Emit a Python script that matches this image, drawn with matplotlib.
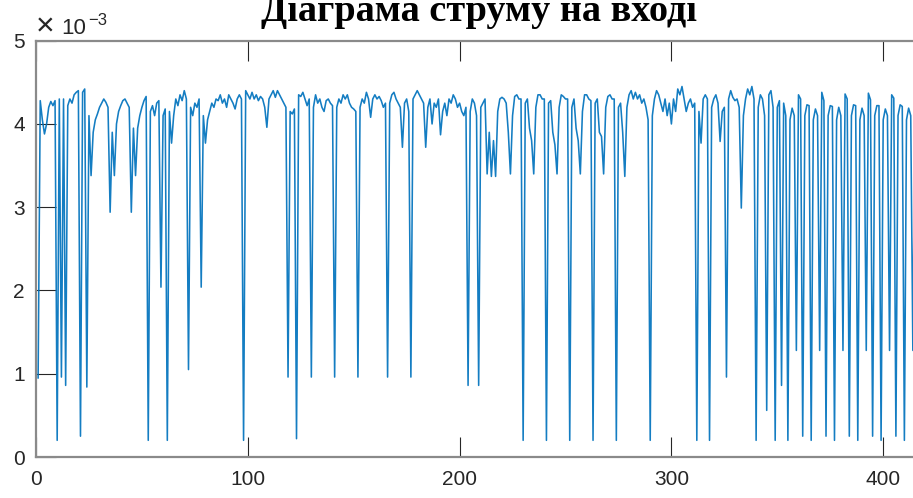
import numpy as np
import matplotlib
matplotlib.use("Agg")
import matplotlib.pyplot as plt
from matplotlib.ticker import FixedLocator, FuncFormatter

# Input current samples, units of 1e-3 (sample index starts at 1)
current_mA = [
    0.95, 4.28, 4.05, 3.88, 4.00, 4.20, 4.27, 4.22, 4.28, 0.20,
    4.30, 0.96, 4.30, 0.86, 4.22, 4.30, 4.25, 4.35, 4.38, 4.40,
    0.25, 4.38, 4.42, 0.84, 4.10, 3.38, 3.90, 4.05, 4.12, 4.20,
    4.25, 4.30, 4.26, 4.20, 2.94, 3.90, 3.38, 4.00, 4.15, 4.22,
    4.28, 4.30, 4.25, 4.20, 2.94, 3.95, 3.38, 3.95, 4.10, 4.20,
    4.28, 4.33, 0.20, 4.15, 4.22, 4.10, 4.25, 4.28, 2.04, 4.10,
    4.18, 0.20, 4.15, 3.77, 4.10, 4.30, 4.22, 4.35, 4.28, 4.40,
    4.30, 1.05, 4.20, 4.10, 4.25, 4.20, 4.30, 2.04, 4.10, 3.77,
    4.05, 4.15, 4.25, 4.20, 4.30, 4.28, 4.35, 4.25, 4.30, 4.20,
    4.35, 4.30, 4.25, 4.18, 4.30, 4.35, 4.30, 0.20, 4.40, 4.35,
    4.30, 4.38, 4.30, 4.35, 4.28, 4.33, 4.30, 4.20, 3.96, 4.30,
    4.35, 4.40, 4.32, 4.40, 4.35, 4.30, 4.25, 4.20, 0.96, 4.15,
    4.12, 4.18, 0.22, 4.35, 4.33, 4.38, 4.30, 4.22, 4.30, 0.96,
    4.20, 4.35, 4.25, 4.30, 4.20, 4.15, 4.28, 4.30, 4.25, 4.22,
    0.96, 4.20, 4.30, 4.25, 4.35, 4.30, 4.35, 4.25, 4.20, 4.18,
    4.15, 0.96, 4.20, 4.30, 4.25, 4.38, 4.30, 4.08, 4.30, 4.35,
    4.30, 4.33, 4.28, 4.20, 4.25, 0.96, 4.25, 4.35, 4.38, 4.30,
    4.25, 4.20, 3.72, 4.25, 4.30, 4.15, 0.96, 4.30, 4.35, 4.40,
    4.35, 4.30, 4.25, 3.72, 4.20, 4.30, 4.00, 4.25, 4.20, 4.30,
    3.87, 4.15, 4.25, 4.10, 4.30, 4.25, 4.35, 4.30, 4.20, 4.25,
    4.15, 4.10, 4.20, 0.86, 4.15, 4.30, 4.25, 4.10, 0.86, 4.20,
    4.25, 4.30, 3.40, 3.90, 3.37, 3.80, 3.37, 4.15, 4.30, 4.32,
    4.30, 4.25, 3.90, 3.40, 4.10, 4.33, 4.35, 4.30, 4.30, 0.20,
    4.25, 4.30, 3.95, 3.80, 3.40, 4.20, 4.35, 4.35, 4.30, 4.30,
    0.20, 4.25, 4.28, 3.90, 3.75, 3.40, 4.20, 4.35, 4.33, 4.30,
    4.30, 0.20, 4.20, 4.30, 3.95, 3.80, 3.40, 4.15, 4.35, 4.35,
    4.30, 4.28, 0.20, 4.25, 4.30, 3.90, 3.85, 3.40, 4.20, 4.33,
    4.35, 4.30, 4.30, 0.20, 4.20, 4.25, 3.90, 3.37, 4.20, 4.35,
    4.40, 4.30, 4.38, 4.30, 4.35, 4.25, 4.30, 4.20, 4.05, 0.20,
    4.10, 4.30, 4.40, 4.35, 4.25, 4.15, 4.30, 4.10, 4.25, 4.00,
    4.30, 4.15, 4.42, 4.35, 4.45, 4.30, 4.15, 4.25, 4.30, 4.20,
    4.25, 0.20, 4.15, 3.77, 4.30, 4.35, 4.30, 0.20, 4.20, 4.30,
    4.35, 4.25, 3.79, 4.15, 4.20, 0.96, 4.30, 4.40, 4.32, 4.28,
    4.30, 4.20, 2.99, 4.10, 4.30, 4.42, 4.35, 4.45, 4.30, 0.20,
    4.20, 4.35, 4.30, 4.10, 0.56, 4.35, 4.40, 4.20, 0.20, 4.20,
    4.28, 0.86, 4.25, 4.10, 0.20, 4.05, 4.19, 4.10, 1.28, 4.35,
    4.30, 0.25, 4.10, 4.23, 4.22, 0.20, 4.05, 4.18, 4.10, 1.28,
    4.38, 4.28, 0.25, 4.10, 4.22, 4.21, 0.20, 4.05, 4.20, 4.10,
    1.28, 4.36, 4.30, 0.25, 4.10, 4.23, 4.22, 0.20, 4.05, 4.19,
    4.10, 1.28, 4.37, 4.29, 0.25, 4.10, 4.22, 4.22, 0.20, 4.05,
    4.18, 4.10, 1.28, 4.35, 4.31, 0.25, 4.10, 4.23, 4.21, 0.20,
    4.05, 4.19, 4.10, 1.28, 4.36, 4.30, 0.25, 4.10, 4.23, 4.22,
]

y_ticks = [0, 1, 2, 3, 4, 5]
x_ticks = [0, 100, 200, 300, 400]
title_text = "Діаграма струму на вході"

current = np.array(current_mA) * 1e-3
sample = np.arange(1, len(current) + 1)

W, H = 913, 498
fig = plt.figure(figsize=(W / 100, H / 100), dpi=100)
fig.patch.set_facecolor("white")

x_lo, x_hi = 0, 420
ax_left, ax_bottom, ax_top = 36, 457, 40.7
px_per_unit = 2.118
ax = fig.add_axes([ax_left / W, (H - ax_bottom) / H,
                   (x_hi - x_lo) * px_per_unit / W, (ax_bottom - ax_top) / H])

ax.plot(sample, current, color="#0072BD", lw=1.15, alpha=0.92)

ax.set_xlim(x_lo, x_hi)
ax.set_ylim(0, 5e-3)
ax.xaxis.set_major_locator(FixedLocator(x_ticks))
ax.yaxis.set_major_locator(FixedLocator([v * 1e-3 for v in y_ticks]))
ax.yaxis.set_major_formatter(FuncFormatter(lambda v, p: f"{round(v * 1e3):d}"))
ax.xaxis.set_major_formatter(FuncFormatter(lambda v, p: f"{int(round(v)):d}"))

tick_font = "Liberation Sans"
for lab in ax.get_xticklabels() + ax.get_yticklabels():
    lab.set_fontfamily(tick_font)
ax.tick_params(direction="in", length=14.5, width=0.8, color="#262626",
               labelsize=15, labelcolor="#262626", top=True, right=False)
ax.tick_params(axis="x", pad=9.5)
ax.tick_params(axis="y", pad=8)

for side in ("left", "bottom", "top"):
    ax.spines[side].set_color("#8a8a8a")
    ax.spines[side].set_linewidth(1.6)
ax.spines["right"].set_visible(False)

# exponent marker above the y axis
fig.text(36 / W, 1 - 35 / H, "×", fontsize=23, family=tick_font,
         color="#262626", ha="left", va="baseline")
fig.text(61 / W, 1 - 34 / H, "10", fontsize=16, family=tick_font,
         color="#262626", ha="left", va="baseline")
fig.text(88 / W, 1 - 25 / H, "\u22123", fontsize=12, family=["Liberation Sans", "DejaVu Sans"],
         color="#262626", ha="left", va="baseline")

fig.text(479 / W, 1 - 21 / H, title_text, fontsize=27.5, fontweight="bold",
         family="Liberation Serif", ha="center", va="baseline", color="black")

fig.savefig("out.png", dpi=100, facecolor="white")
